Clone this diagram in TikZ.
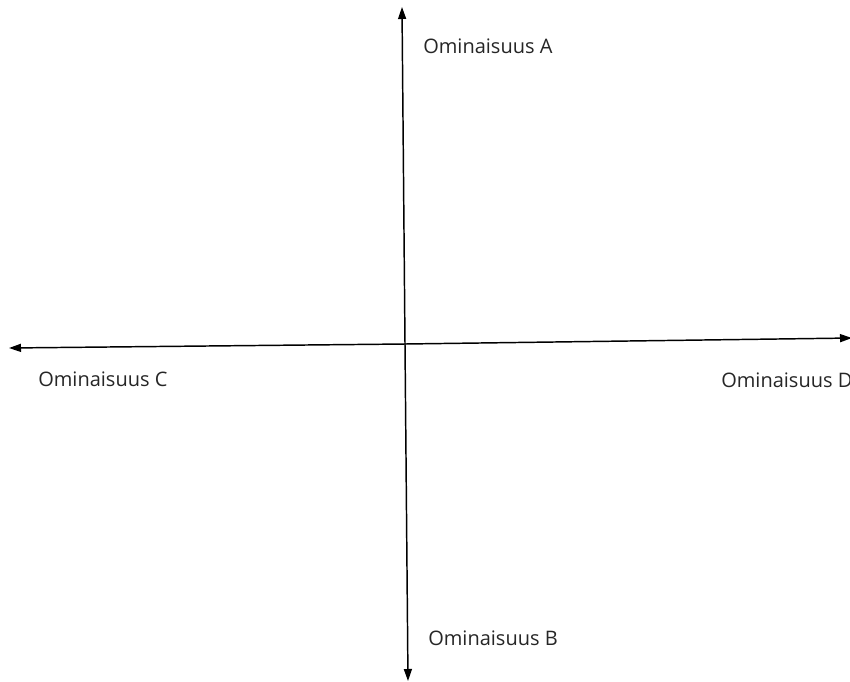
\documentclass[tikz,border=0pt]{standalone}
\usepackage{fontspec}
\setmainfont{Open Sans}
\usetikzlibrary{arrows.meta}
\tikzset{
  axis/.style={draw=black, line width=1.1pt, -{Triangle[length=9pt,width=6pt]}},
  lbl/.style={anchor=west, inner sep=0pt, font=\fontsize{15pt}{18pt}\selectfont, text=black!85}
}
\begin{document}
\begin{tikzpicture}[x=0.75pt,y=-0.75pt]
\useasboundingbox (0,0) rectangle (850,682);
\coordinate (o) at (405,344);
\coordinate (top) at (402,7);
\coordinate (bot) at (408,681);
\coordinate (lft) at (9,348);
\coordinate (rgt) at (852,338);
\draw[axis] (o) -- (top);
\draw[axis] (o) -- (bot);
\draw[axis] (o) -- (lft);
\draw[axis] (o) -- (rgt);
\node[lbl] (A) at (423,46) {Ominaisuus A};
\node[lbl] (B) at (428,638) {Ominaisuus B};
\node[lbl] (C) at (38,379) {Ominaisuus C};
\node[lbl] (D) at (721,380) {Ominaisuus D};
\end{tikzpicture}
\end{document}
